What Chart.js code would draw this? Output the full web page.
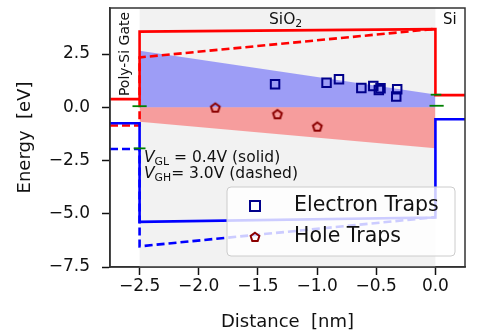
<!DOCTYPE html>
<html>
<head>
<meta charset="utf-8">
<script src="https://cdn.jsdelivr.net/npm/chart.js@4.4.1/dist/chart.umd.min.js"></script>
<style>
  html, body { margin: 0; padding: 0; background: #fff; }
</style>
</head>
<body>
<canvas id="bands" width="502" height="331"></canvas>
<script>
// axes
const xRange = [-2.75, 0.25];
const yRange = [-7.5, 4.66];
const xTicks = [-2.5, -2.0, -1.5, -1.0, -0.5, 0.0];
const yTicks = [-7.5, -5.0, -2.5, 0.0, 2.5];
const oxide = [-2.5, 0.0]; // SiO2 slab

// band edges (x in nm, y in eV)
const cbLow = [[-2.75, 0.38], [-2.5, 0.38], [-2.5, 3.55], [0, 3.67], [0, 0.57], [0.25, 0.57]];
const vbLow = [[-2.75, -0.75], [-2.5, -0.75], [-2.5, -5.38], [0, -5.18], [0, -0.56], [0.25, -0.56]];
const cbHigh = [[-2.75, -0.86], [-2.5, -0.86], [-2.5, 2.34], [0, 3.68]];
const vbHigh = [[-2.75, -1.96], [-2.5, -1.96], [-2.5, -6.53], [0, -5.16]];

// fermi levels (short green marks)
const fermi = [
  [[-2.56, 0.05], [-2.44, 0.05]],
  [[-2.55, -1.93], [-2.45, -1.93]],
  [[-0.04, 0.59], [0.05, 0.59]],
  [[-0.05, 0.07], [0.07, 0.07]],
];

// trap bands
const elecBand = [[-2.5, 2.65], [0, 0.6]];
const holeBand = [[-2.5, -0.68], [0, -1.92]];

// traps
const elecX = [-1.355, -0.92, -0.815, -0.626, -0.525, -0.478, -0.464, -0.323, -0.331];
const elecY = [1.08, 1.15, 1.31, 0.90, 1.00, 0.81, 0.89, 0.84, 0.50];
const holeX = [-1.86, -1.335, -0.998];
const holeY = [-0.02, -0.33, -0.91];

const FONT = '"DejaVu Sans", sans-serif';
const pts = (arr) => arr.map(([x, y]) => ({ x: x, y: y }));
const fmt = (v) => v.toFixed(1).replace('-', '\u2212');

// pentagon marker
const pent = document.createElement('canvas');
pent.width = 14; pent.height = 14;
(function () {
  const c = pent.getContext('2d');
  c.beginPath();
  for (let i = 0; i < 5; i++) {
    const a = -Math.PI / 2 + i * 2 * Math.PI / 5;
    const px = 7 + 4.6 * Math.cos(a), py = 7.4 + 4.6 * Math.sin(a);
    if (i === 0) c.moveTo(px, py); else c.lineTo(px, py);
  }
  c.closePath();
  c.lineWidth = 2;
  c.strokeStyle = '#8b0000';
  c.stroke();
})();

function band(data, color, dash, order, width) {
  return {
    data: pts(data), borderColor: color, borderWidth: width || 2.6, borderDash: dash,
    pointRadius: 0, fill: false, tension: 0, order: order,
  };
}

const datasets = [];
fermi.forEach((seg) => datasets.push(band(seg, '#008000', [], 1, 1.8)));
datasets.push(band(cbLow, '#ff0000', [], 3));
datasets.push(band(vbLow, '#0000ff', [], 3));
datasets.push(band(cbHigh, '#ff0000', [8, 4], 3));
datasets.push(band(vbHigh, '#0000ff', [8, 4], 3));
datasets.push({
  data: pts(elecBand), borderWidth: 0, pointRadius: 0, fill: 'origin',
  backgroundColor: 'rgba(0,0,255,0.35)', order: 5,
});
datasets.push({
  data: pts(holeBand), borderWidth: 0, pointRadius: 0, fill: 'origin',
  backgroundColor: 'rgba(255,0,0,0.35)', order: 5,
});
datasets.push({
  data: elecX.map((x, i) => ({ x: x, y: elecY[i] })), showLine: false,
  pointStyle: 'rect', pointRadius: 6, pointBorderWidth: 2,
  pointBorderColor: '#00008b', pointBackgroundColor: 'rgba(0,0,0,0)', order: 2,
});
datasets.push({
  data: holeX.map((x, i) => ({ x: x, y: holeY[i] })), showLine: false,
  pointStyle: pent, pointRadius: 6, order: 2,
});

function sub(ctx, x, y, main, low, rest, size, italic) {
  ctx.font = (italic ? 'italic ' : '') + size + 'px ' + FONT;
  ctx.fillText(main, x, y);
  x += ctx.measureText(main).width;
  ctx.font = (size * 0.7) + 'px ' + FONT;
  ctx.fillText(low, x, y + size * 0.22);
  x += ctx.measureText(low).width;
  ctx.font = size + 'px ' + FONT;
  ctx.fillText(rest, x, y);
}

const decor = {
  id: 'decor',
  beforeDatasetsDraw(chart) {
    const { ctx, chartArea: a, scales: { x } } = chart;
    ctx.save();
    ctx.fillStyle = '#f2f2f2';
    const x0 = x.getPixelForValue(oxide[0]), x1 = x.getPixelForValue(oxide[1]);
    ctx.fillRect(x0, a.top, x1 - x0, a.bottom - a.top);
    ctx.restore();
  },
  afterDatasetsDraw(chart) {
    const { ctx, chartArea: a } = chart;
    ctx.save();
    ctx.fillStyle = '#111';
    ctx.textBaseline = 'alphabetic';
    // labels
    ctx.save();
    ctx.translate(128.5, 54);
    ctx.rotate(-Math.PI / 2);
    ctx.textAlign = 'center';
    ctx.font = '14px ' + FONT;
    ctx.fillText('Poly-Si Gate', 0, 0);
    ctx.restore();
    ctx.textAlign = 'left';
    sub(ctx, 269, 24, 'SiO', '2', '', 15.5, false);
    ctx.font = '15px ' + FONT;
    ctx.fillText('Si', 443, 24);
    sub(ctx, 144, 162, 'V', 'GL', ' = 0.4V (solid)', 15.5, true);
    sub(ctx, 144, 178, 'V', 'GH', '= 3.0V (dashed)', 15.5, true);

    // legend
    const lx = 227, ly = 187, lw = 228, lh = 69;
    ctx.beginPath();
    ctx.roundRect(lx, ly, lw, lh, 4);
    ctx.fillStyle = 'rgba(255,255,255,0.8)';
    ctx.fill();
    ctx.strokeStyle = '#cccccc';
    ctx.lineWidth = 1;
    ctx.stroke();
    ctx.strokeStyle = '#00008b';
    ctx.lineWidth = 2;
    ctx.strokeRect(250, 201, 10, 10);
    ctx.drawImage(pent, 248, 230);
    ctx.fillStyle = '#111';
    ctx.font = '20.5px ' + FONT;
    ctx.textBaseline = 'middle';
    ctx.fillText('Electron Traps', 294, 206);
    ctx.fillText('Hole Traps', 294, 237);

    // frame
    ctx.strokeStyle = '#333';
    ctx.lineWidth = 1.5;
    ctx.strokeRect(a.left, a.top, a.right - a.left, a.bottom - a.top);
    ctx.restore();
  },
};

new Chart(document.getElementById('bands'), {
  type: 'line',
  data: { datasets: datasets },
  options: {
    responsive: false,
    animation: false,
    devicePixelRatio: 1,
    layout: { padding: { left: 0, right: 37, top: 8, bottom: 0 } },
    plugins: { legend: { display: false }, tooltip: { enabled: false } },
    scales: {
      x: {
        type: 'linear', min: xRange[0], max: xRange[1],
        afterBuildTicks: (s) => { s.ticks = xTicks.map((v) => ({ value: v })); },
        afterFit: (s) => { s.height = 64; s.paddingLeft = 0; s.paddingRight = 0; },
        ticks: { callback: fmt, color: '#111', font: { family: FONT, size: 17 }, padding: 1, maxRotation: 0 },
        grid: { drawOnChartArea: false, drawTicks: true, tickLength: 8, tickWidth: 1.5, tickColor: '#111' },
        border: { display: true, color: '#333', width: 1.5 },
        title: { display: true, text: 'Distance  [nm]', color: '#111', font: { family: FONT, size: 18 }, padding: { top: 0, bottom: -2 } },
      },
      y: {
        type: 'linear', min: yRange[0], max: yRange[1],
        afterBuildTicks: (s) => { s.ticks = yTicks.map((v) => ({ value: v })); },
        afterFit: (s) => { s.width = 110; s.paddingTop = 0; s.paddingBottom = 0; },
        ticks: { callback: fmt, color: '#111', font: { family: FONT, size: 17 }, padding: 12 },
        grid: { drawOnChartArea: false, drawTicks: true, tickLength: 8, tickWidth: 1.5, tickColor: '#111' },
        border: { display: true, color: '#333', width: 1.5 },
        title: { display: true, text: 'Energy  [eV]', color: '#111', font: { family: FONT, size: 18 }, padding: { top: 15, bottom: 0 } },
      },
    },
  },
  plugins: [decor],
});
</script>
</body>
</html>
